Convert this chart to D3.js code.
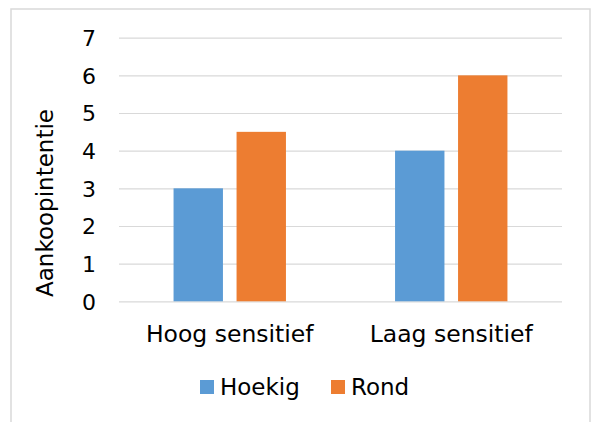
<!DOCTYPE html>
<html>
<head>
<meta charset="utf-8">
<script src="https://cdn.jsdelivr.net/npm/d3@7/dist/d3.min.js"></script>
<style>
  html, body { margin: 0; padding: 0; background: #ffffff; }
  svg { display: block; }
  text { font-family: "DejaVu Sans", Verdana, sans-serif; fill: #000000; }
</style>
</head>
<body>
<svg id="chart" width="592" height="422"></svg>
<script>
// Purchase intention by sensitivity group and shape
const categories = ["Hoog sensitief", "Laag sensitief"];
const seriesNames = ["Hoekig", "Rond"];
const hoekigValues = [3, 4];
const rondValues = [4.5, 6];
const yTicks = [0, 1, 2, 3, 4, 5, 6, 7];
const yTitle = "Aankoopintentie";
const colors = ["#5B9BD5", "#ED7D31"];

const seriesValues = [hoekigValues, rondValues];
const rows = categories.map((c, i) => ({
  category: c,
  values: seriesNames.map((s, j) => ({ series: s, value: seriesValues[j][i], color: colors[j] }))
}));

const svg = d3.select("#chart");

// Chart area frame
svg.append("rect")
  .attr("x", 11).attr("y", 9)
  .attr("width", 579).attr("height", 430)
  .attr("fill", "#ffffff")
  .attr("stroke", "#d9d9d9")
  .attr("stroke-width", 1.5);

const plot = { left: 119, right: 562, top: 37.7, bottom: 301.3 };

const y = d3.scaleLinear().domain([0, 7]).range([plot.bottom, plot.top]);
const x0 = d3.scaleBand().domain(categories).range([plot.left, plot.right]).padding(0);
const x1 = d3.scaleBand().domain(seriesNames).range([0, x0.bandwidth()])
  .paddingInner(0.216).paddingOuter(0.866);

// Gridlines
const yAxis = d3.axisLeft(y).tickValues(yTicks).tickSize(-(plot.right - plot.left)).tickFormat(d3.format("d"));
const gy = svg.append("g").attr("transform", `translate(${plot.left},0)`).call(yAxis);
gy.select(".domain").remove();
gy.selectAll(".tick line").attr("stroke", "#d9d9d9").attr("stroke-width", 1.2);
gy.selectAll(".tick text")
  .attr("x", -23)
  .attr("dy", "0.36em")
  .style("font-size", "22px")
  .style("font-family", "'DejaVu Sans', Verdana, sans-serif")
  .attr("fill", "#000");

// Bars
const groups = svg.append("g").selectAll("g")
  .data(rows).join("g")
  .attr("transform", d => `translate(${x0(d.category)},0)`);
groups.selectAll("rect")
  .data(d => d.values).join("rect")
  .attr("x", d => x1(d.series))
  .attr("y", d => y(d.value))
  .attr("width", x1.bandwidth())
  .attr("height", d => y(0) - y(d.value))
  .attr("fill", d => d.color);

// Category axis labels
const xAxis = d3.axisBottom(x0).tickSize(0).tickPadding(0);
const gx = svg.append("g").attr("transform", `translate(0,${plot.bottom})`).call(xAxis);
gx.select(".domain").remove();
gx.selectAll(".tick text")
  .attr("y", 41).attr("dy", 0)
  .style("font-size", "23.5px")
  .style("font-family", "'DejaVu Sans', Verdana, sans-serif")
  .attr("fill", "#000");

// Axis title
svg.append("text")
  .attr("transform", "translate(53,203) rotate(-90)")
  .attr("text-anchor", "middle")
  .style("font-size", "23px")
  .text(yTitle);

// Legend
const legendItems = [
  { name: seriesNames[0], color: colors[0], x: 200 },
  { name: seriesNames[1], color: colors[1], x: 331 }
];
const lg = svg.append("g").selectAll("g").data(legendItems).join("g")
  .attr("transform", d => `translate(${d.x},380)`);
lg.append("rect").attr("width", 14).attr("height", 14).attr("fill", d => d.color);
lg.append("text").attr("x", 20).attr("y", 15)
  .style("font-size", "23px")
  .text(d => d.name);
</script>
</body>
</html>
